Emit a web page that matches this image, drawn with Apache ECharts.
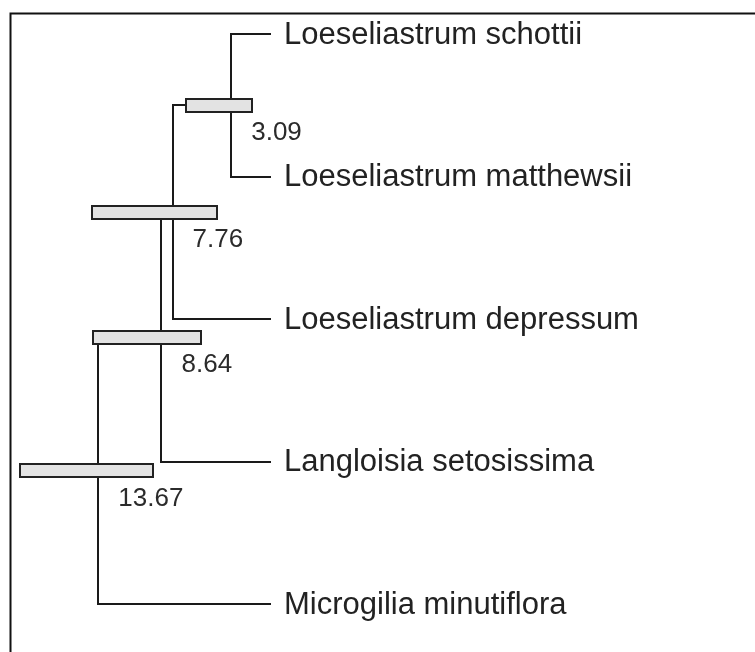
<!DOCTYPE html>
<html>
<head>
<meta charset="utf-8">
<script src="https://cdn.jsdelivr.net/npm/echarts@6/dist/echarts.min.js"></script>
<style>html,body{margin:0;padding:0;background:#fff;}#c{width:755px;height:652px;}</style>
</head>
<body>
<div id="c"></div>
<script>
// ---- data ----
const leaves = ['Loeseliastrum schottii', 'Loeseliastrum matthewsii', 'Loeseliastrum depressum', 'Langloisia setosissima', 'Microgilia minutiflora'];
const nodeAges = [3.09, 7.76, 8.64, 13.67];
const nodeLabels = ['3.09', '7.76', '8.64', '13.67'];
const nodeChildren = [['L0', 'L1'], ['N0', 'L2'], ['N1', 'L3'], ['N2', 'L4']];
const hpdLow = [1.42, 4.20, 5.48, 9.31];
const hpdHigh = [6.68, 14.17, 14.09, 19.90];

// ---- derived ----
function pos(id) {
  const i = +id.slice(1);
  if (id[0] === 'L') return { age: 0, y: i };
  const c = nodeChildren[i].map(pos);
  return { age: nodeAges[i], y: (c[0].y + c[1].y) / 2 };
}
const branches = [];
nodeChildren.forEach((ch, i) => {
  const p = pos('N' + i);
  const c = ch.map(pos);
  branches.push([p.age, c[0].y, p.age, c[1].y]);
  c.forEach(cc => branches.push([p.age, cc.y, cc.age, cc.y]));
});
const bars = nodeAges.map((a, i) => [hpdLow[i], hpdHigh[i], pos('N' + i).y]);
const nodePts = nodeAges.map((a, i) => [a, pos('N' + i).y, nodeLabels[i]]);
const leafPts = leaves.map((n, i) => [0, i, n]);

const LINE = '#1a1a1a';
const R = v => Math.round(v);
const chart = echarts.init(document.getElementById('c'), null, { renderer: 'canvas' });
chart.setOption({
  animation: false,
  backgroundColor: '#ffffff',
  grid: { left: 0, width: 270, top: 34, height: 570 },
  xAxis: { type: 'value', min: 0, max: 21.5, inverse: true, show: false },
  yAxis: { type: 'value', min: 0, max: 4, inverse: true, show: false },
  graphic: [{
    type: 'rect', shape: { x: 10.5, y: 13.5, width: 800, height: 700 },
    style: { fill: 'none', stroke: '#111', lineWidth: 2 }, z: 0
  }],
  series: [
    {
      type: 'custom', clip: false, z: 2,
      data: branches,
      encode: { x: [0, 2], y: [1, 3] },
      renderItem: function (params, api) {
        const a = api.coord([api.value(0), api.value(1)]);
        const b = api.coord([api.value(2), api.value(3)]);
        return { type: 'line', shape: { x1: R(a[0]), y1: R(a[1]), x2: R(b[0]), y2: R(b[1]) },
          style: { stroke: LINE, lineWidth: 2, lineCap: 'square' } };
      }
    },
    {
      type: 'custom', clip: false, z: 3,
      data: bars,
      encode: { x: [0, 1], y: 2 },
      renderItem: function (params, api) {
        const a = api.coord([api.value(1), api.value(2)]);
        const b = api.coord([api.value(0), api.value(2)]);
        const x0 = R(a[0]), x1 = R(b[0]), yc = R(a[1]);
        return { type: 'rect', shape: { x: x0, y: yc - 6, width: x1 - x0, height: 13 },
          style: { fill: '#e3e3e3', stroke: '#222', lineWidth: 2 } };
      }
    },
    {
      type: 'custom', clip: false, z: 4,
      data: nodePts,
      encode: { x: 0, y: 1 },
      renderItem: function (params, api) {
        const a = api.coord([api.value(0), api.value(1)]);
        return { type: 'text', x: a[0] + 20, y: a[1] + 28,
          style: { text: nodePts[params.dataIndex][2], fill: '#2b2b2b',
            font: '26px "Liberation Sans", Arial, sans-serif', align: 'left', verticalAlign: 'middle' } };
      }
    },
    {
      type: 'custom', clip: false, z: 4,
      data: leafPts,
      encode: { x: 0, y: 1 },
      renderItem: function (params, api) {
        const a = api.coord([api.value(0), api.value(1)]);
        return { type: 'text', x: a[0] + 14, y: a[1] + 1,
          style: { text: leafPts[params.dataIndex][2], fill: '#222',
            font: '31px "Liberation Sans", Arial, sans-serif', align: 'left', verticalAlign: 'middle' } };
      }
    }
  ]
});
</script>
</body>
</html>
